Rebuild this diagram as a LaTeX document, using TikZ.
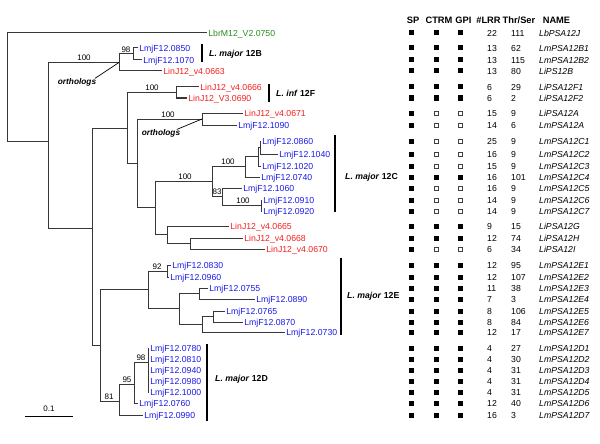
\documentclass[tikz,border=0pt]{standalone}
\usepackage{fontspec}
\setmainfont{Liberation Sans}
\definecolor{lmblue}{RGB}{25,25,235}
\definecolor{lired}{RGB}{245,30,30}
\definecolor{lbgreen}{RGB}{40,140,30}
\definecolor{treecol}{RGB}{55,55,55}
\begin{document}
\begin{tikzpicture}[x=1pt,y=-1pt,
  br/.style={draw=treecol, line width=1pt},
  lab/.style={anchor=west, inner xsep=1.2pt, inner ysep=0pt, text height=6.2pt, text depth=0pt, font=\fontsize{8.7}{10}\selectfont},
  lm/.style={lab, text=lmblue},
  li/.style={lab, text=lired},
  lb/.style={lab, text=lbgreen},
  boot/.style={anchor=south, inner sep=0.6pt, font=\fontsize{8}{9}\selectfont},
  cbar/.style={draw=black, line width=2pt},
  clab/.style={anchor=west, inner sep=0pt, text height=6.2pt, text depth=0pt, font=\fontsize{8.7}{10}\selectfont\bfseries},
  orth/.style={inner sep=0.5pt, font=\fontsize{8.3}{10}\selectfont\bfseries\itshape},
  hdr/.style={inner sep=0pt, text height=6.7pt, text depth=0pt, font=\fontsize{9.3}{10}\selectfont\bfseries},
  sq1/.style={fill=black, minimum size=5pt, inner sep=0pt},
  sq0/.style={draw=black!75, fill=white, line width=0.6pt, minimum size=4.4pt, inner sep=0pt},
  num/.style={anchor=west, inner sep=0pt, text height=6.2pt, text depth=0pt, font=\fontsize{8.7}{10}\selectfont}
]
\useasboundingbox (0,0) rectangle (600,444);

% ---------------- internal nodes ----------------
\coordinate (root) at (7,141);
\coordinate (n48) at (48,141);
\coordinate (nB) at (119,62.5);
\coordinate (nB98) at (133,54);
\coordinate (n92) at (92,228);
\coordinate (n127) at (127,128);
\coordinate (nF) at (176,92.5);
\coordinate (n137) at (137,163);
\coordinate (nA) at (202,119);
\coordinate (n155) at (155,207);
\coordinate (nX) at (212,181);
\coordinate (nc) at (245,166.5);
\coordinate (nb) at (258,156);
\coordinate (na) at (260,147.5);
\coordinate (ne) at (222,196.5);
\coordinate (nd) at (261,205.5);
\coordinate (n167) at (167,234.5);
\coordinate (nf) at (190,243.5);
\coordinate (n100) at (100,345);
\coordinate (n148) at (148,289);
\coordinate (ng) at (167,271);
\coordinate (nh) at (179,308.5);
\coordinate (ni) at (199,293.5);
\coordinate (nj) at (202,324);
\coordinate (nk) at (213,316.5);
\coordinate (nl) at (119,401);
\coordinate (nm) at (134,384);
\coordinate (nn) at (148,362);

% ---------------- leaves ----------------
\node[lb] (tLbrM) at (207,33) {LbrM12\_V2.0750};
\node[lm] (t0850) at (138,48) {LmjF12.0850};
\node[lm] (t1070) at (142,60) {LmjF12.1070};
\node[li] (t0663) at (162,71) {LinJ12\_v4.0663};
\node[li] (t0666) at (199,87) {LinJ12\_v4.0666};
\node[li] (t0690) at (187,98) {LinJ12\_V3.0690};
\node[li] (t0671) at (243,113) {LinJ12\_v4.0671};
\node[lm] (t1090) at (237,125) {LmjF12.1090};
\node[lm] (t0860) at (261,141) {LmjF12.0860};
\node[lm] (t1040) at (278,154) {LmjF12.1040};
\node[lm] (t1020) at (261,166) {LmjF12.1020};
\node[lm] (t0740) at (260,177) {LmjF12.0740};
\node[lm] (t1060) at (242,188) {LmjF12.1060};
\node[lm] (t0910) at (262,200) {LmjF12.0910};
\node[lm] (t0920) at (262,211) {LmjF12.0920};
\node[li] (t0665) at (229,226) {LinJ12\_v4.0665};
\node[li] (t0668) at (243,238) {LinJ12\_v4.0668};
\node[li] (t0670) at (265,249) {LinJ12\_v4.0670};
\node[lm] (t0830) at (171,265) {LmjF12.0830};
\node[lm] (t0960) at (169,277) {LmjF12.0960};
\node[lm] (t0755) at (208,288) {LmjF12.0755};
\node[lm] (t0890) at (255,299) {LmjF12.0890};
\node[lm] (t0765) at (225,311) {LmjF12.0765};
\node[lm] (t0870) at (243,322) {LmjF12.0870};
\node[lm] (t0730) at (285,332) {LmjF12.0730};
\node[lm] (t0780) at (149,348) {LmjF12.0780};
\node[lm] (t0810) at (149,359) {LmjF12.0810};
\node[lm] (t0940) at (149,370) {LmjF12.0940};
\node[lm] (t0980) at (149,381) {LmjF12.0980};
\node[lm] (t1000) at (149,392) {LmjF12.1000};
\node[lm] (t0760) at (138,403) {LmjF12.0760};
\node[lm] (t0990) at (143,415) {LmjF12.0990};

% ---------------- branches ----------------
\draw[br] (root) |- (tLbrM.west);
\draw[br] (root) -- (n48);
\draw[br] (n48) |- (nB);
\draw[br] (n48) |- (n92);
\draw[br] (nB) |- (nB98);
\draw[br] (nB) |- (t0663.west);
\draw[br] (nB98) |- (t0850.west);
\draw[br] (nB98) |- (t1070.west);
\draw[br] (n92) |- (n127);
\draw[br] (n92) |- (n100);
\draw[br] (n127) |- (nF);
\draw[br] (n127) |- (n137);
\draw[br] (nF) |- (t0666.west);
\draw[br] (nF) |- (t0690.west);
\draw[br] (n137) |- (nA);
\draw[br] (n137) |- (n155);
\draw[br] (nA) |- (t0671.west);
\draw[br] (nA) |- (t1090.west);
\draw[br] (n155) |- (nX);
\draw[br] (n155) |- (n167);
\draw[br] (nX) |- (nc);
\draw[br] (nX) |- (ne);
\draw[br] (nc) |- (nb);
\draw[br] (nc) |- (t0740.west);
\draw[br] (nb) |- (na);
\draw[br] (nb) |- (t1020.west);
\draw[br] (na) |- (t0860.west);
\draw[br] (na) |- (t1040.west);
\draw[br] (ne) |- (t1060.west);
\draw[br] (ne) |- (nd);
\draw[br] (nd) |- (t0910.west);
\draw[br] (nd) |- (t0920.west);
\draw[br] (n167) |- (t0665.west);
\draw[br] (n167) |- (nf);
\draw[br] (nf) |- (t0668.west);
\draw[br] (nf) |- (t0670.west);
\draw[br] (n100) |- (n148);
\draw[br] (n100) |- (nl);
\draw[br] (n148) |- (ng);
\draw[br] (n148) |- (nh);
\draw[br] (ng) |- (t0830.west);
\draw[br] (ng) |- (t0960.west);
\draw[br] (nh) |- (ni);
\draw[br] (nh) |- (nj);
\draw[br] (ni) |- (t0755.west);
\draw[br] (ni) |- (t0890.west);
\draw[br] (nj) |- (nk);
\draw[br] (nj) |- (t0730.west);
\draw[br] (nk) |- (t0765.west);
\draw[br] (nk) |- (t0870.west);
\draw[br] (nl) |- (nm);
\draw[br] (nl) |- (t0990.west);
\draw[br] (nm) |- (nn);
\draw[br] (nm) |- (t0760.west);
\foreach \t in {t0780,t0810,t0940,t0980,t1000} \draw[br] (nn) |- (\t.west);

% ---------------- bootstrap values ----------------
\node[boot] (b1) at (84,61.5) {100};
\node[boot] (b2) at (126,53) {98};
\node[boot] (b3) at (152,91.5) {100};
\node[boot] (b4) at (168,118) {100};
\node[boot] (b5) at (185,180) {100};
\node[boot] (b6) at (228,165.5) {100};
\node[boot] (b7) at (217,195.5) {83};
\node[boot] (b8) at (243,204.5) {100};
\node[boot] (b9) at (157,270) {92};
\node[boot] (b10) at (109,400) {81};
\node[boot] (b11) at (127,383) {95};
\node[boot] (b12) at (141,361) {98};

% ---------------- orthologs ----------------
\node[orth] (o1) at (77,82) {orthologs};
\draw[black, line width=0.7pt] ([xshift=-2pt,yshift=-1pt]o1.north east) -- (nB);
\node[orth] (o2) at (161,133) {orthologs};
\draw[black, line width=0.7pt] ([xshift=-4pt,yshift=-1pt]o2.north east) -- (nA);

% ---------------- clade bars ----------------
\coordinate (cB1) at (202,44); \coordinate (cB2) at (202,62);
\draw[cbar] (cB1) -- (cB2);
\node[clab] (lB) at (209,53) {\textit{L. major} 12B};
\coordinate (cF1) at (269,84); \coordinate (cF2) at (269,102);
\draw[cbar] (cF1) -- (cF2);
\node[clab] (lF) at (276,93) {\textit{L. inf} 12F};
\coordinate (cC1) at (335,135); \coordinate (cC2) at (335,212);
\draw[cbar] (cC1) -- (cC2);
\node[clab] (lC) at (345,176) {\textit{L. major} 12C};
\coordinate (cE1) at (341,258); \coordinate (cE2) at (341,335);
\draw[cbar] (cE1) -- (cE2);
\node[clab] (lE) at (347,295) {\textit{L. major} 12E};
\coordinate (cD1) at (207,344); \coordinate (cD2) at (207,421);
\draw[cbar] (cD1) -- (cD2);
\node[clab] (lD) at (215,378) {\textit{L. major} 12D};

% ---------------- scale bar ----------------
\coordinate (sb1) at (25,416); \coordinate (sb2) at (73,416);
\draw[black, line width=0.9pt] (sb1) -- (sb2);
\node[boot] (sbl) at (49,412) {0.1};

% ---------------- table ----------------
\node[hdr] (hSP) at (413,20) {SP};
\node[hdr] (hCT) at (439,20) {CTRM};
\node[hdr] (hGP) at (463.5,20) {GPI};
\node[hdr] (hLR) at (488.5,20) {\#LRR};
\node[hdr] (hTS) at (519,20) {Thr/Ser};
\node[hdr] (hNM) at (556.5,20) {NAME};

\foreach \y/\f/\l/\t/\n [count=\i] in {
 33/1/22/111/LbPSA12J,
 48/1/13/62/LmPSA12B1,
 60/1/13/115/LmPSA12B2,
 71/1/13/80/LiPS12B,
 87/1/6/29/LiPSA12F1,
 98/1/6/2/LiPSA12F2,
 113/0/15/9/LiPSA12A,
 125/0/14/6/LmPSA12A,
 141/0/25/9/LmPSA12C1,
 154/0/16/9/LmPSA12C2,
 166/0/15/9/LmPSA12C3,
 177/1/16/101/LmPSA12C4,
 188/0/16/9/LmPSA12C5,
 200/0/14/9/LmPSA12C6,
 211/0/14/9/LmPSA12C7,
 226/1/9/15/LiPSA12G,
 238/1/12/74/LiPSA12H,
 249/0/6/34/LiPSA12I,
 265/1/12/95/LmPSA12E1,
 277/1/12/107/LmPSA12E2,
 288/1/11/38/LmPSA12E3,
 299/1/7/3/LmPSA12E4,
 311/1/8/106/LmPSA12E5,
 322/1/8/84/LmPSA12E6,
 332/1/12/17/LmPSA12E7,
 348/1/4/27/LmPSA12D1,
 359/1/4/30/LmPSA12D2,
 370/1/4/31/LmPSA12D3,
 381/1/4/31/LmPSA12D4,
 392/1/4/31/LmPSA12D5,
 403/1/12/40/LmPSA12D6,
 415/1/16/3/LmPSA12D7}{
  \node[sq1] (sp\i) at (411,\y) {};
  \node[sq\f] (ct\i) at (436,\y) {};
  \node[sq\f] (gp\i) at (460,\y) {};
  \node[num] (lr\i) at (487,\y) {\l};
  \node[num] (ts\i) at (511,\y) {\t};
  \node[num] (nm\i) at (539,\y) {\textit{\n}};
}
\end{tikzpicture}
\end{document}
